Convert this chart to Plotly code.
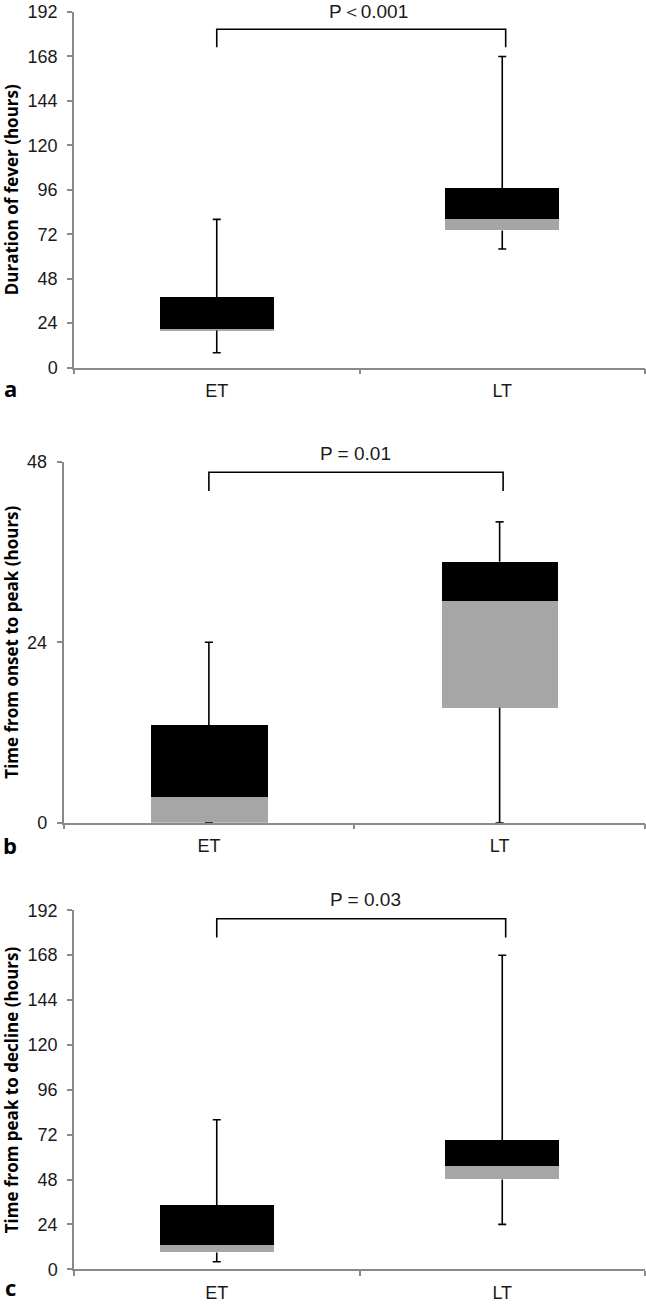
import plotly.graph_objects as go

# ---- data ----
groups = ["ET", "LT"]
tick_labels = ["ET", "LT"]

# panel a: Duration of fever (hours)
a_min = [8, 64]
a_q1 = [20, 74]
a_med = [21, 80]
a_q3 = [38, 97]
a_max = [80, 168]

# panel b: Time from onset to peak (hours)
b_min = [0, 0]
b_q1 = [0, 15.3]
b_med = [3.5, 29.5]
b_q3 = [13, 34.7]
b_max = [24, 40]

# panel c: Time from peak to decline (hours)
c_min = [4, 24]
c_q1 = [9, 48]
c_med = [13, 55]
c_q3 = [34, 69]
c_max = [80, 168]

titles = ["Duration of fever (hours)", "Time from onset to peak (hours)",
          "Time from peak to decline (hours)"]
p_labels = ["P\uff1c0.001", "P = 0.01", "P = 0.03"]
panel_letters = ["a", "b", "c"]
y_max = [192, 48, 192]
y_dtick = [24, 24, 24]

# ---- layout geometry ----
W, H = 646, 1305
panels = [
    dict(x0=74, x1=645, top=12, bot=367.5, brk=(173, 182.7), ptxt_x=0.533, ptxt_y=12, letter_y=390),
    dict(x0=63.5, x1=645, top=461.7, bot=822.7, brk=(44.1, 46.6), ptxt_x=0.503, ptxt_y=453.5, letter_y=846.7),
    dict(x0=74, x1=645, top=910.3, bot=1269.3, brk=(177.5, 187.5), ptxt_x=0.52, ptxt_y=899, letter_y=1293),
]
data = [
    (a_min, a_q1, a_med, a_q3, a_max),
    (b_min, b_q1, b_med, b_q3, b_max),
    (c_min, c_q1, c_med, c_q3, c_max),
]

GRAY = "#a6a6a6"
AXIS = "#8a8a8a"
TICKFONT = dict(family="Liberation Sans, Arial, sans-serif", size=18, color="#1a1a1a")
xs = list(range(len(groups)))
cap = 0.014

fig = go.Figure()
annotations = []
layout_axes = {}

for i, (p, d) in enumerate(zip(panels, data)):
    n = "" if i == 0 else str(i + 1)
    xa, ya = "x" + n, "y" + n
    mn, q1, med, q3, mx = d

    # whiskers
    wx, wy = [], []
    for k in xs:
        wx += [k, k, None, k - cap, k + cap, None]
        wy += [q3[k], mx[k], None, mx[k], mx[k], None]
        wx += [k, k, None, k - cap, k + cap, None]
        wy += [q1[k], mn[k], None, mn[k], mn[k], None]
    fig.add_trace(go.Scatter(x=wx, y=wy, mode="lines", line=dict(color="black", width=1.6),
                             xaxis=xa, yaxis=ya, showlegend=False, hoverinfo="skip"))

    # lower box (Q1 -> median) gray, upper box (median -> Q3) black
    fig.add_trace(go.Bar(x=xs, y=[m - a for m, a in zip(med, q1)], base=q1, width=0.4,
                         marker=dict(color=GRAY, line=dict(width=0)),
                         xaxis=xa, yaxis=ya, showlegend=False))
    fig.add_trace(go.Bar(x=xs, y=[b - m for b, m in zip(q3, med)], base=med, width=0.4,
                         marker=dict(color="black", line=dict(width=0)),
                         xaxis=xa, yaxis=ya, showlegend=False))

    # significance bracket
    lo, hi = p["brk"]
    fig.add_trace(go.Scatter(x=[xs[0], xs[0], xs[1] + 0.012, xs[1] + 0.012],
                             y=[lo, hi, hi, lo], mode="lines",
                             line=dict(color="black", width=1.6),
                             xaxis=xa, yaxis=ya, showlegend=False, hoverinfo="skip"))

    layout_axes["xaxis" + n] = dict(
        domain=[p["x0"] / W, p["x1"] / W], anchor=ya, range=[-0.5, 1.5],
        tickvals=xs, ticktext=tick_labels, ticks="", showgrid=False, zeroline=False,
        showline=True, linecolor=AXIS, linewidth=1.5, automargin=False,
        minor=dict(tickvals=[-0.5, 0.5, 1.5], ticks="outside", ticklen=5,
                   tickcolor=AXIS, tickwidth=1.5, showgrid=False),
        tickfont=dict(family=TICKFONT["family"], size=18, color="#1a1a1a"),
        ticklabelstandoff=6, fixedrange=True,
    )
    layout_axes["yaxis" + n] = dict(
        domain=[1 - p["bot"] / H, 1 - p["top"] / H], anchor=xa, automargin=False,
        range=[0, y_max[i]], dtick=y_dtick[i], tick0=0, ticks="outside", ticklen=5,
        tickcolor=AXIS, tickwidth=1.5, showline=True, linecolor=AXIS, linewidth=1.5,
        showgrid=False, zeroline=False, tickfont=TICKFONT, ticklabelstandoff=6,
        fixedrange=True,
    )

    annotations.append(dict(text=titles[i], textangle=-90, xref="paper", yref="paper",
                            x=11.5 / W, y=1 - (p["top"] + p["bot"]) / 2 / H,
                            xanchor="center", yanchor="middle", showarrow=False,
                            font=dict(family="Open Sans, sans-serif", size=17, color="black",
                                      weight="bold")))
    annotations.append(dict(text=p_labels[i], xref=xa, yref="paper",
                            x=p["ptxt_x"], y=1 - p["ptxt_y"] / H,
                            xanchor="center", yanchor="middle", showarrow=False,
                            font=dict(family="Liberation Sans, Arial, sans-serif", size=19,
                                      color="#1a1a1a")))
    annotations.append(dict(text=panel_letters[i], xref="paper", yref="paper",
                            x=10 / W, y=1 - min(p["letter_y"] + 15, H - 1) / H,
                            xanchor="center", yanchor="bottom", showarrow=False,
                            font=dict(family="Open Sans, sans-serif", size=22, color="black",
                                      weight="bold")))

fig.update_layout(
    width=W, height=H, margin=dict(l=0, r=0, t=0, b=0, autoexpand=False),
    paper_bgcolor="white", plot_bgcolor="white",
    barmode="overlay", bargap=0, annotations=annotations, showlegend=False,
    **layout_axes,
)

fig.write_html("out.html", config={"displayModeBar": False},
               post_script="document.body.style.margin='0';document.body.style.overflow='hidden';")
